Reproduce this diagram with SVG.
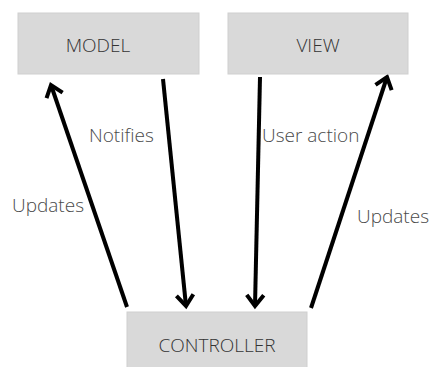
<svg xmlns="http://www.w3.org/2000/svg" width="429" height="367" viewBox="0 0 429 367">
  <style>
    .box { fill: #d9d9d9; stroke: #cfcfcf; stroke-width: 1; }
    .name { font-family: "Open Sans", "Liberation Sans", sans-serif; font-weight: 300; font-size: 19px; fill: #333333; text-anchor: middle; }
    .label { font-family: "Open Sans", "Liberation Sans", sans-serif; font-weight: 300; font-size: 19px; fill: #4a4a4a; }
    .link { stroke: #000; stroke-width: 4; fill: none; marker-end: url(#head); }
  </style>
  <defs>
    <marker id="head" markerUnits="userSpaceOnUse" viewBox="-16 -16 32 32" markerWidth="32" markerHeight="32" refX="0" refY="0" orient="auto">
      <path d="M-11,-8.5 L0,0 L-11,8.5" fill="none" stroke="#000" stroke-width="4" stroke-linejoin="miter"/>
    </marker>
  </defs>

  <rect width="429" height="367" fill="#ffffff"/>

  <g id="connectors">
    <line class="link" x1="127" y1="307" x2="51" y2="85"/>
    <line class="link" x1="163" y1="79" x2="186" y2="306"/>
    <line class="link" x1="260" y1="77" x2="255" y2="306"/>
    <line class="link" x1="311" y1="308" x2="387" y2="77"/>
    <text class="label" x="12" y="212">Updates</text>
    <text class="label" x="89" y="142">Notifies</text>
    <text class="label" x="262" y="142">User action</text>
    <text class="label" x="357" y="223">Updates</text>
  </g>

  <g id="model">
    <rect class="box" x="18" y="13" width="181" height="61"/>
    <text class="name" x="98" y="52">MODEL</text>
  </g>

  <g id="view">
    <rect class="box" x="228" y="13" width="180" height="61"/>
    <text class="name" x="318" y="52">VIEW</text>
  </g>

  <g id="controller">
    <rect class="box" x="127" y="312" width="180" height="60"/>
    <text class="name" x="217" y="352">CONTROLLER</text>
  </g>
</svg>
